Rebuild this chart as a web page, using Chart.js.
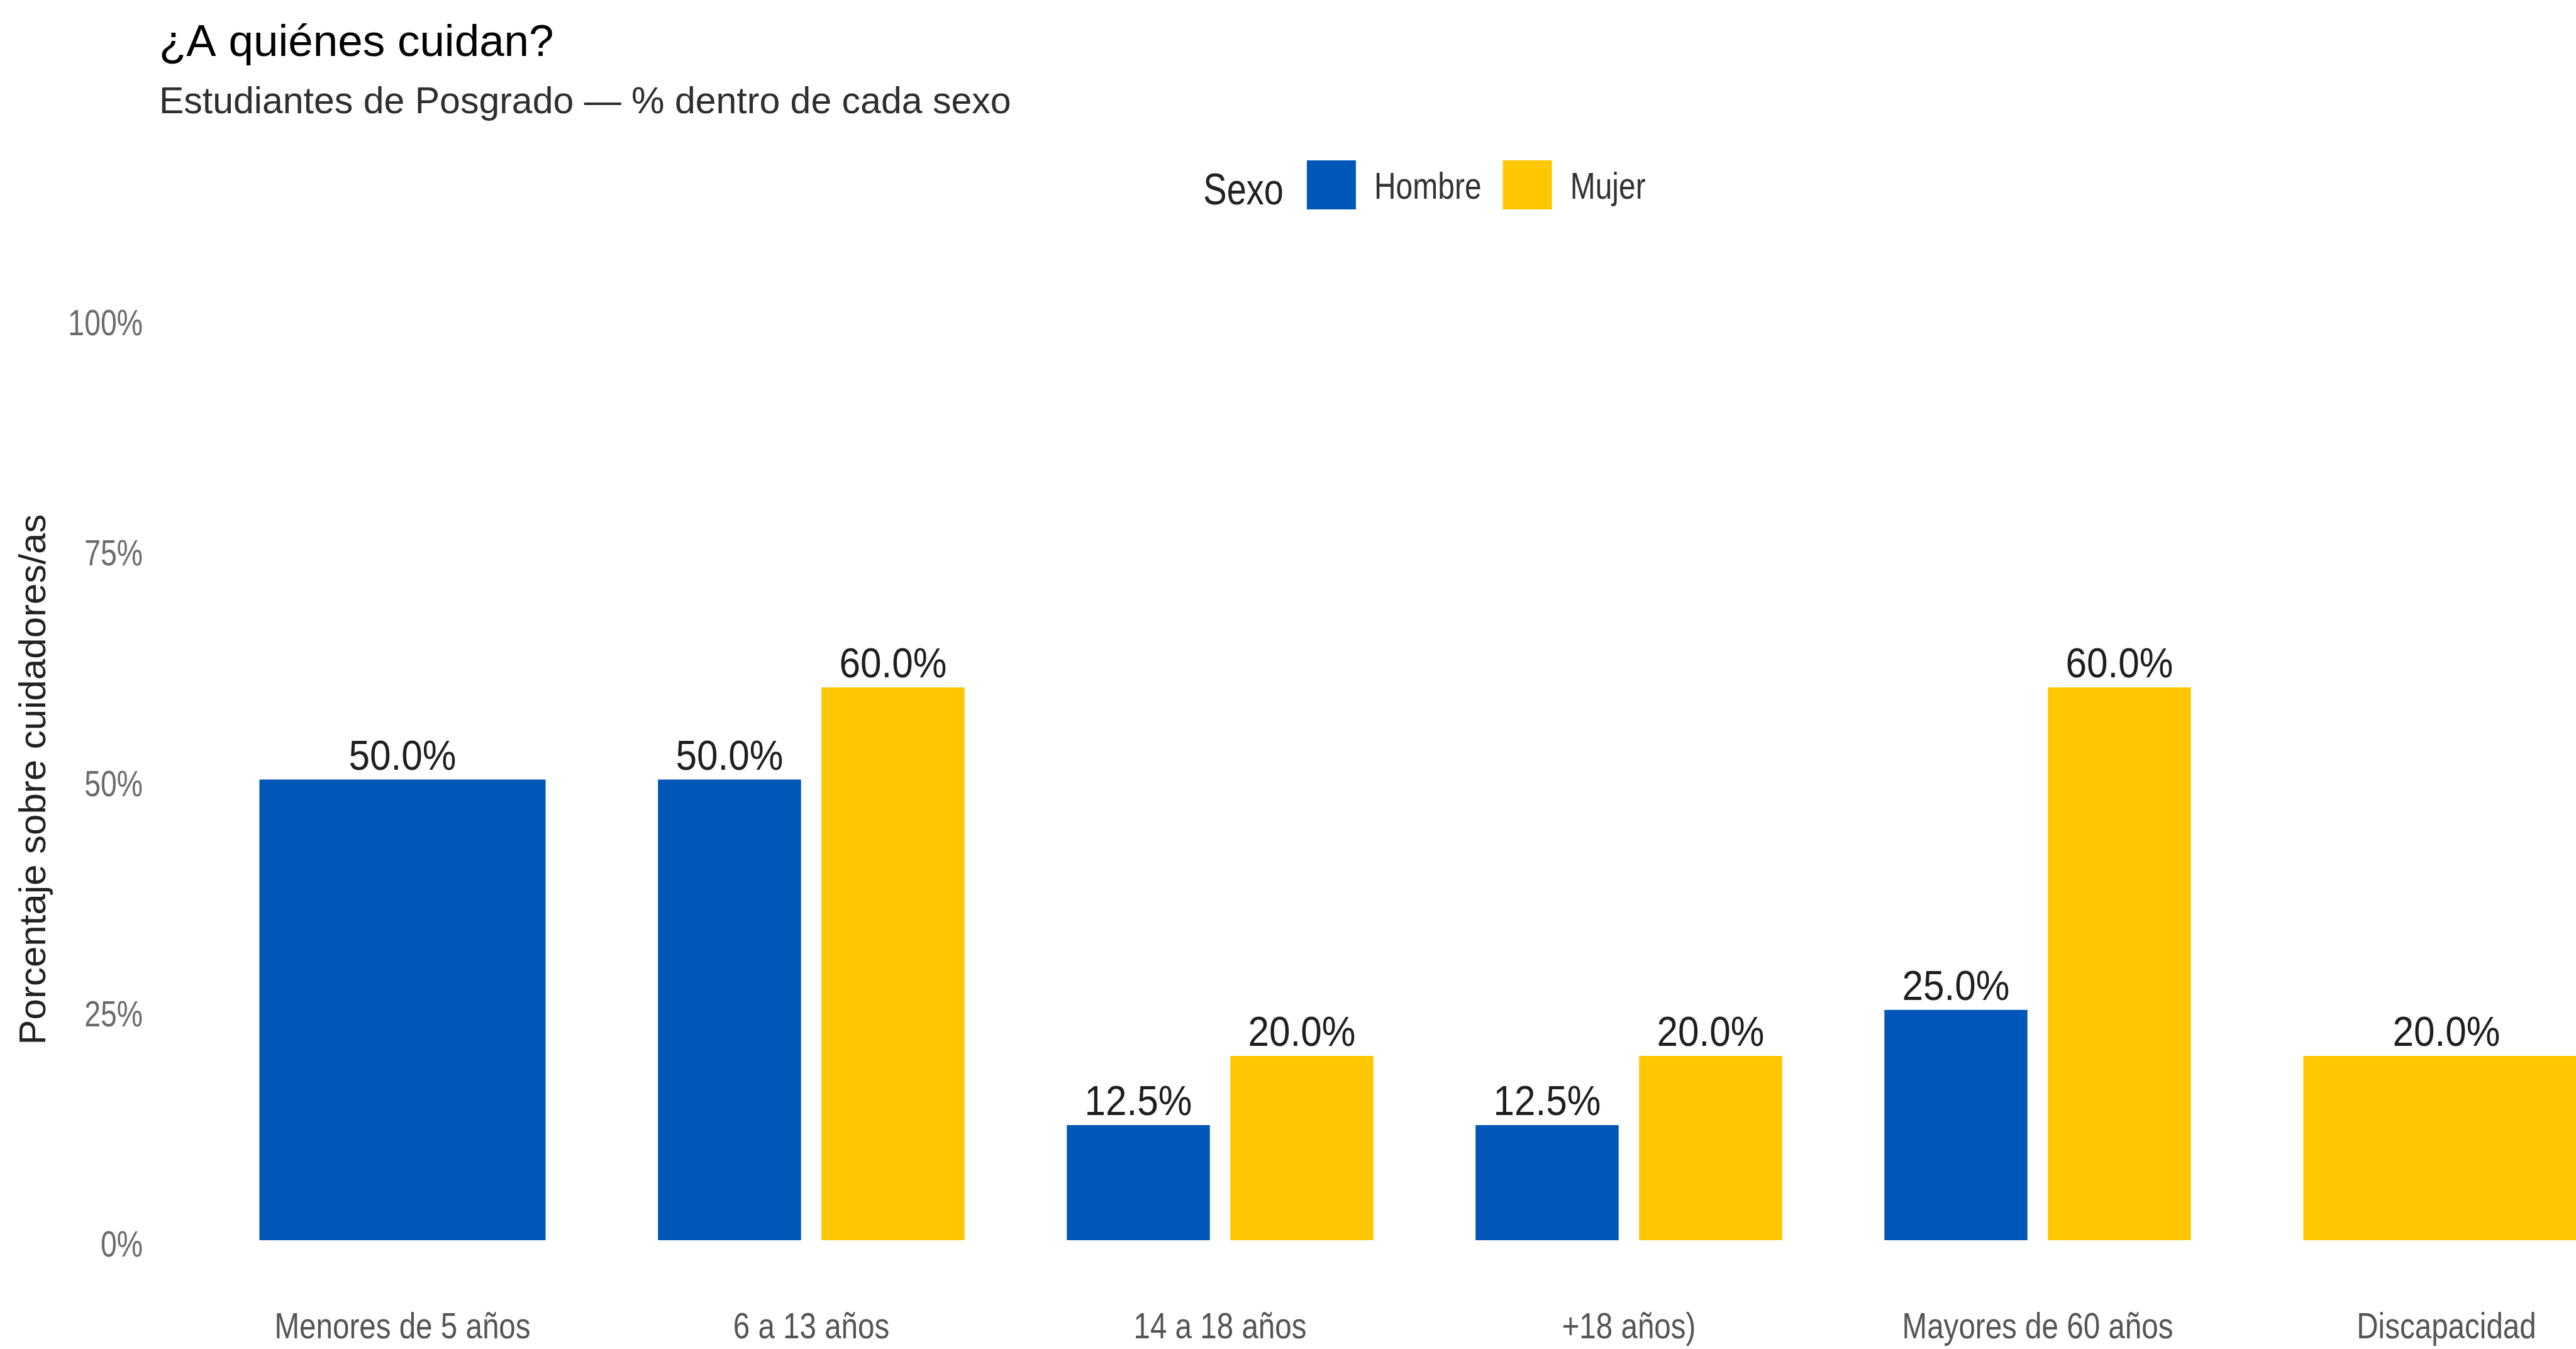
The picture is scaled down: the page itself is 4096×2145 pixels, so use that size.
<!DOCTYPE html>
<html lang="es">
<head>
<meta charset="utf-8">
<title>¿A quiénes cuidan?</title>
<script src="https://cdn.jsdelivr.net/npm/chart.js@4.4.1/dist/chart.umd.min.js"></script>
<style>
  html, body { margin: 0; padding: 0; background: #fff; overflow: hidden; }
  canvas { display: block; }
</style>
</head>
<body>
<canvas id="chart" width="4300" height="2145"></canvas>
<script>
const categorias = ['Menores de 5 años', '6 a 13 años', '14 a 18 años', '+18 años)', 'Mayores de 60 años', 'Discapacidad'];
const hombre = [50, 50, 12.5, 12.5, 25, null];
const mujer = [null, 60, 20, 20, 60, 20];
const ticksY = [0, 25, 50, 75, 100];
const series = ['Hombre', 'Mujer'];
const colores = ['#0057B7', '#FFC700'];

const FUENTE = '"Liberation Sans", Arial, sans-serif';
const ANGOSTO = 0.8; // la letra de ejes y leyenda es más estrecha

function textoAngosto(ctx, txt, x, y, align, k = ANGOSTO) {
  ctx.save();
  ctx.translate(x, y);
  ctx.scale(k, 1);
  ctx.textAlign = align;
  ctx.fillText(txt, 0, 0);
  ctx.restore();
}

// títulos, leyenda "Sexo" y etiquetas de los ejes
const decoracion = {
  id: 'decoracion',
  afterDraw(chart) {
    const ctx = chart.ctx;
    const area = chart.chartArea;
    ctx.save();
    ctx.textBaseline = 'alphabetic';

    ctx.fillStyle = '#000';
    ctx.font = '71px ' + FUENTE;
    ctx.fillText('¿A quiénes cuidan?', 253, 89);
    ctx.fillStyle = '#2e2e2e';
    ctx.font = '59px ' + FUENTE;
    ctx.fillText('Estudiantes de Posgrado — % dentro de cada sexo', 253, 180);

    // leyenda centrada sobre el panel
    ctx.font = '70px ' + FUENTE;
    const wTitulo = ctx.measureText('Sexo').width * ANGOSTO;
    ctx.font = '60px ' + FUENTE;
    const wEtiq = series.map(s => ctx.measureText(s).width * ANGOSTO);
    const caja = 78, sepTitulo = 37, sepCaja = 29, sepItem = 34;
    const total = wTitulo + sepTitulo + 2 * (caja + sepCaja) + wEtiq[0] + sepItem + wEtiq[1];
    let x = (area.left + area.right) / 2 - total / 2;
    const cy = 294;

    ctx.fillStyle = '#222';
    ctx.font = '70px ' + FUENTE;
    textoAngosto(ctx, 'Sexo', x, cy + 31, 'left');
    x += wTitulo + sepTitulo;
    ctx.font = '60px ' + FUENTE;
    series.forEach((s, i) => {
      ctx.fillStyle = colores[i];
      ctx.fillRect(x, cy - caja / 2, caja, caja);
      x += caja + sepCaja;
      ctx.fillStyle = '#333';
      textoAngosto(ctx, s, x, cy + 22, 'left');
      x += wEtiq[i] + sepItem;
    });

    // categorías
    const xs = chart.scales.x;
    ctx.fillStyle = '#555';
    ctx.font = '58px ' + FUENTE;
    categorias.forEach((c, i) => {
      textoAngosto(ctx, c, xs.getPixelForValue(i), 2128, 'center', 0.82);
    });

    // marcas del eje y
    const ys = chart.scales.y;
    ctx.fillStyle = '#6b6b6b';
    ctx.font = '58px ' + FUENTE;
    ticksY.forEach(v => {
      textoAngosto(ctx, v + '%', area.left - 88, ys.getPixelForValue(v) + 26, 'right');
    });
    ctx.restore();
  }
};

// porcentaje encima de cada barra
const etiquetas = {
  id: 'etiquetasValor',
  afterDatasetsDraw(chart) {
    const ctx = chart.ctx;
    ctx.save();
    ctx.font = '67px ' + FUENTE;
    ctx.fillStyle = '#1f1f1f';
    ctx.textBaseline = 'alphabetic';
    chart.data.datasets.forEach((ds, i) => {
      chart.getDatasetMeta(i).data.forEach((bar, j) => {
        const v = ds.data[j];
        if (v == null) return;
        textoAngosto(ctx, v.toFixed(1) + '%', bar.x, bar.y - 16, 'center', 0.9);
      });
    });
    ctx.restore();
  }
};

new Chart(document.getElementById('chart'), {
  type: 'bar',
  data: {
    labels: categorias,
    datasets: [
      { label: series[0], data: hombre, backgroundColor: colores[0] },
      { label: series[1], data: mujer, backgroundColor: colores[1] }
    ]
  },
  options: {
    responsive: false,
    animation: false,
    skipNull: true,
    categoryPercentage: 0.8,
    barPercentage: 0.875,
    layout: { padding: { left: 0, right: 85, top: 507, bottom: 165 } },
    scales: {
      x: {
        grid: { display: false },
        border: { display: false },
        ticks: { display: false }
      },
      y: {
        min: 0,
        max: 100,
        afterBuildTicks: scale => { scale.ticks = ticksY.map(v => ({ value: v })); },
        afterFit: scale => { scale.width = 315; },
        grid: { display: false },
        border: { display: false },
        ticks: { display: false },
        title: {
          display: true,
          text: 'Porcentaje sobre cuidadores/as',
          color: '#222',
          font: { family: FUENTE, size: 60 },
          padding: { top: 19, bottom: 0 }
        }
      }
    },
    plugins: {
      legend: { display: false },
      tooltip: { enabled: false }
    }
  },
  plugins: [etiquetas, decoracion]
});
</script>
</body>
</html>
